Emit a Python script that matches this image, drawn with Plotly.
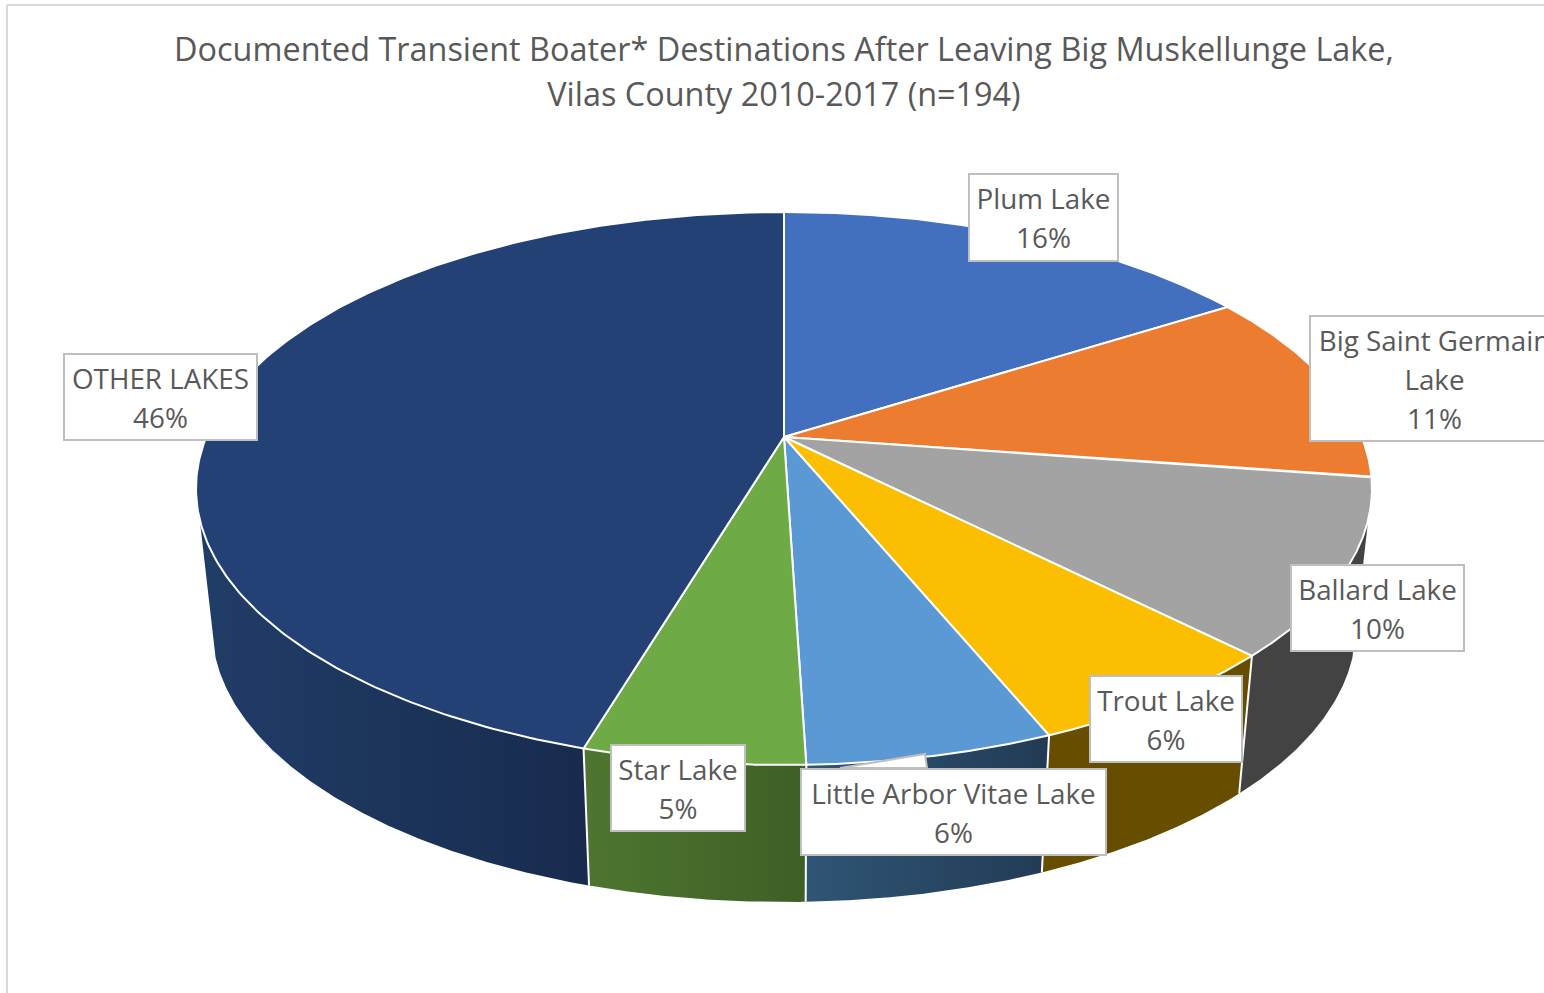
import numpy as np
import plotly.graph_objects as go

# ---- data ----
TITLE_LINES = ["Documented Transient Boater* Destinations After Leaving Big Muskellunge Lake,",
               "Vilas County 2010-2017 (n=194)"]
CATEGORIES = ["Plum Lake", "Big Saint Germain Lake", "Ballard Lake", "Trout Lake",
              "Little Arbor Vitae Lake", "Star Lake", "OTHER LAKES"]
LABEL_LINES = ["Plum Lake", "Big Saint Germain<br>Lake", "Ballard Lake", "Trout Lake",
               "Little Arbor Vitae Lake", "Star Lake", "OTHER LAKES"]
LABEL_PERCENT = [16, 11, 10, 6, 6, 5, 46]
# slice sizes as they appear in the picture, in percent
SLICE_SHARE = [16.0, 11.3, 10.3, 6.2, 5.7, 5.1, 45.4]

# ---- style ----
TOP_COLORS = ["#4270BF", "#EB7C30", "#A3A3A3", "#FBBE00", "#5A99D4", "#6EAA46", "#244175"]
WALL_COLORS = [("#2A4678", "#2A4678"), ("#8F4B1D", "#8F4B1D"), ("#434343", "#434343"),
               ("#664D00", "#664D00"), ("#2F5575", "#223B55"), ("#4E7630", "#3E5F25"),
               ("#203D68", "#182B4E")]
TEXT = "#595959"
BORDER = "#BFBFBF"
FONT = "Open Sans"
# label boxes: centre x, centre y, width, height (pixels on the hidden axes)
BOXES = [(1043, 217, 150, 88), (1434, 378, 250, 126), (1377, 607.5, 174, 87), (1165.5, 718.5, 153, 87),
         (953, 811.5, 306, 87), (677.5, 787.5, 135, 87), (160, 396.5, 194, 87)]
TOP_DISC = dict(cx=784, cy=437, up=225, down=328, half=588)
BOTTOM_DISC = dict(cx=784, cy=575.8, up=223.8, down=326.2, half=572)
WALL_FROM, WALL_TO = np.radians(107), np.radians(253)


def project(theta, disc):
    """Perspective projection of a point on the unit disc; theta is clockwise from 12 o'clock."""
    X, Y = np.sin(theta), np.cos(theta)
    c = (disc["down"] - disc["up"]) / (disc["down"] + disc["up"])
    a = disc["up"] * (1 + c)
    d = disc["half"] * np.sqrt(1 - c * c)
    w = 1 + c * Y
    return disc["cx"] + d * X / w, disc["cy"] - a * Y / w


shares = np.array(SLICE_SHARE, dtype=float) / sum(SLICE_SHARE)
edges = np.concatenate([[0], np.cumsum(shares)]) * 2 * np.pi

fig = go.Figure()

# side walls (only the front can be seen), drawn beneath the top face
for i in range(len(SLICE_SHARE)):
    lo, hi = max(edges[i], WALL_FROM), min(edges[i + 1], WALL_TO)
    if hi <= lo:
        continue
    t = np.linspace(lo, hi, 160)
    tx, ty = project(t, TOP_DISC)
    bx, by = project(t[::-1], BOTTOM_DISC)
    x = np.concatenate([tx, bx])
    y = np.concatenate([ty, by])
    c0, c1 = WALL_COLORS[i]
    fig.add_trace(go.Scatter(
        x=x, y=y, mode="lines", fill="toself", line=dict(width=0), name=CATEGORIES[i],
        fillgradient=dict(type="horizontal", colorscale=[[0, c0], [1, c1]]),
        hoverinfo="skip", showlegend=False))

# white seams between walls
for e in edges[3:-1]:
    tx, ty = project(np.array([e]), TOP_DISC)
    bx, by = project(np.array([e]), BOTTOM_DISC)
    fig.add_trace(go.Scatter(x=[tx[0], bx[0]], y=[ty[0], by[0]], mode="lines",
                             line=dict(color="white", width=2), hoverinfo="skip", showlegend=False))

# top face wedges
ax, ay = TOP_DISC["cx"], TOP_DISC["cy"]
for i in range(len(SLICE_SHARE)):
    t = np.linspace(edges[i], edges[i + 1], 240)
    ex, ey = project(t, TOP_DISC)
    fig.add_trace(go.Scatter(
        x=np.concatenate([[ax], ex, [ax]]), y=np.concatenate([[ay], ey, [ay]]),
        mode="lines", fill="toself", fillcolor=TOP_COLORS[i], name=CATEGORIES[i],
        line=dict(color="white", width=2), hoverinfo="name", showlegend=False))

annotations = []
for label, pct, (bxc, byc, bw, bh) in zip(LABEL_LINES, LABEL_PERCENT, BOXES):
    annotations.append(dict(
        x=bxc, y=byc, xref="x", yref="y", xanchor="center", yanchor="middle", showarrow=False,
        text=f'<span style="font-size:27.8px">{label}<br>{pct}%</span>',
        font=dict(family=FONT, size=30, color=TEXT), align="center", valign="middle",
        width=bw - 3, height=bh - 3, borderpad=0, bgcolor="white", bordercolor=BORDER, borderwidth=2))

shapes = [
    dict(type="line", xref="x", yref="y", x0=7, x1=1544, y0=5, y1=5, line=dict(color="#D9D9D9", width=2)),
    dict(type="line", xref="x", yref="y", x0=7, x1=7, y0=5, y1=993, line=dict(color="#D9D9D9", width=2)),
    dict(type="path", xref="x", yref="y", path="M 840 768 L 925 754 L 927 768 Z", fillcolor="white",
         line=dict(color=BORDER, width=2)),
]

fig.update_layout(
    width=1544, height=993, margin=dict(l=0, r=0, t=0, b=0), paper_bgcolor="white", plot_bgcolor="white",
    xaxis=dict(range=[0, 1544], visible=False, fixedrange=True),
    yaxis=dict(range=[993, 0], visible=False, fixedrange=True),
    title=dict(text='<span style="font-size:32.4px">' + "<br>".join(TITLE_LINES) + "</span>",
               x=784 / 1544, xanchor="center", y=1 - 61 / 993, yanchor="middle", yref="container",
               font=dict(family=FONT, size=34.6, color=TEXT)),
    annotations=annotations, shapes=shapes, showlegend=False)

fig.write_html("out.html", config=dict(displayModeBar=False),
               post_script="document.body.style.margin='0';document.documentElement.style.overflow='hidden';")
